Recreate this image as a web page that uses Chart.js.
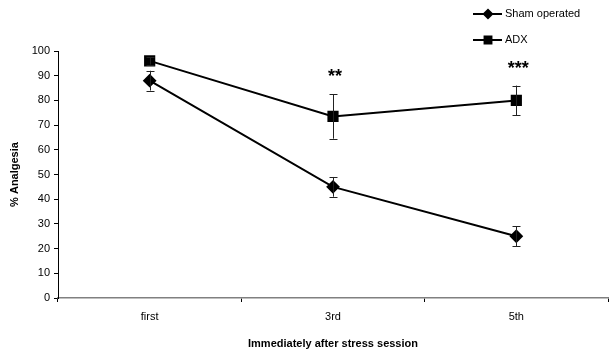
<!DOCTYPE html>
<html>
<head>
<meta charset="utf-8">
<script src="https://cdn.jsdelivr.net/npm/chart.js@4"></script>
<style>
  html, body { margin: 0; padding: 0; background: #fff; }
  #wrap { width: 609px; height: 351px; }
</style>
</head>
<body>
<div id="wrap"><canvas id="myChart" width="609" height="351"></canvas></div>
<script>
// data
const sessions = ["first", "3rd", "5th"];
const shamValues = [88, 45, 25];
const shamErrors = [4, 4, 4];
const adxValues = [96, 73.5, 80];
const adxErrors = [1.5, 9, 6];
const adxStars = ["", "**", "***"];
const yTicks = [0, 10, 20, 30, 40, 50, 60, 70, 80, 90, 100];

const font = "'Liberation Sans', Arial, sans-serif";

// error bars + significance stars
const errorBars = {
  id: 'errorBars',
  afterDatasetsDraw(chart) {
    const ctx = chart.ctx;
    const y = chart.scales.y;
    ctx.save();
    ctx.strokeStyle = '#222';
    ctx.lineWidth = 1;
    chart.data.datasets.forEach((ds, i) => {
      const meta = chart.getDatasetMeta(i);
      meta.data.forEach((pt, j) => {
        const err = ds.errors[j];
        const top = y.getPixelForValue(ds.data[j] + err);
        const bot = y.getPixelForValue(ds.data[j] - err);
        const x = Math.round(pt.x) + 0.5;
        ctx.beginPath();
        ctx.moveTo(x, top); ctx.lineTo(x, bot);
        ctx.moveTo(x - 4, Math.round(top) + 0.5); ctx.lineTo(x + 4, Math.round(top) + 0.5);
        ctx.moveTo(x - 4, Math.round(bot) + 0.5); ctx.lineTo(x + 4, Math.round(bot) + 0.5);
        ctx.stroke();
        if (ds.stars && ds.stars[j]) {
          ctx.fillStyle = '#000';
          ctx.font = 'bold 18px ' + font;
          ctx.textAlign = 'center';
          ctx.textBaseline = 'middle';
          ctx.fillText(ds.stars[j], pt.x + 2, top - 17);
        }
      });
    });
    ctx.restore();
  }
};

// vertical legend top right
const sideLegend = {
  id: 'sideLegend',
  afterDraw(chart) {
    const ctx = chart.ctx;
    ctx.save();
    chart.data.datasets.forEach((ds, i) => {
      const ly = 14 + i * 26;
      ctx.strokeStyle = '#000';
      ctx.lineWidth = 2;
      ctx.beginPath();
      ctx.moveTo(473, ly); ctx.lineTo(502, ly);
      ctx.stroke();
      Chart.helpers.drawPoint(ctx, {
        pointStyle: ds.pointStyle, radius: ds.pointRadius * 0.75, borderWidth: 1
      }, 488, ly);
      ctx.fillStyle = '#000';
      ctx.font = '11px ' + font;
      ctx.textAlign = 'left';
      ctx.textBaseline = 'middle';
      ctx.fillText(ds.label, 505, ly);
    });
    ctx.restore();
  }
};

new Chart("myChart", {
  type: "line",
  data: {
    labels: sessions,
    datasets: [{
      label: 'Sham operated',
      data: shamValues,
      errors: shamErrors,
      borderColor: "#000",
      backgroundColor: "#000",
      borderWidth: 2,
      pointStyle: 'rectRot',
      pointRadius: 5.5,
      fill: false
    }, {
      label: 'ADX',
      data: adxValues,
      errors: adxErrors,
      stars: adxStars,
      borderColor: "#000",
      backgroundColor: "#000",
      borderWidth: 2,
      pointStyle: 'rect',
      pointRadius: 6.5,
      fill: false
    }]
  },
  options: {
    responsive: false,
    animation: false,
    layout: { autoPadding: false, padding: { top: 51, right: 1, left: 0, bottom: 0 } },
    plugins: {
      legend: { display: false },
      tooltip: { enabled: false }
    },
    scales: {
      x: {
        offset: true,
        grid: {
          offset: true,
          drawOnChartArea: false,
          color: '#808080',
          tickLength: 4,
          tickColor: '#000'
        },
        border: { color: '#808080', width: 1.5 },
        ticks: { color: '#000', font: { family: font, size: 11 }, padding: 8 },
        title: {
          display: true,
          text: 'Immediately after stress session',
          color: '#000',
          font: { family: font, size: 11, weight: 'bold' },
          padding: { top: 6, bottom: 0 }
        },
        afterFit(scale) {
          scale.height = 53;
          scale.paddingLeft = 0;
          scale.paddingRight = 0;
        }
      },
      y: {
        min: 0,
        max: 100,
        afterBuildTicks(scale) { scale.ticks = yTicks.map(v => ({ value: v })); },
        grid: {
          drawOnChartArea: false,
          tickLength: 4,
          tickColor: '#000'
        },
        border: { color: '#000', width: 1 },
        ticks: { color: '#000', font: { family: font, size: 11 }, padding: 4 },
        title: {
          display: true,
          text: '% Analgesia',
          color: '#000',
          font: { family: font, size: 11, weight: 'bold' },
          padding: { top: 8, bottom: 0 }
        },
        afterFit(scale) { scale.width = 58; }
      }
    }
  },
  plugins: [errorBars, sideLegend]
});
</script>
</body>
</html>
